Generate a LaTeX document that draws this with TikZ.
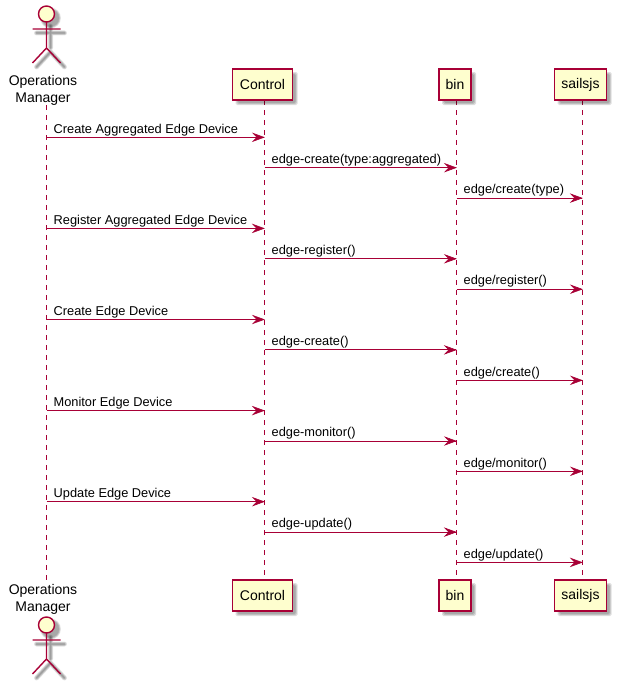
\documentclass[tikz,border=0pt]{standalone}
\usepackage{fontspec}
\setmainfont{Liberation Sans}
\definecolor{umlline}{HTML}{A80036}
\definecolor{umlfill}{HTML}{FEFECE}
\tikzset{
  lifeline/.style={draw=umlline,line width=1pt,dash pattern=on 5pt off 5pt},
  message/.style={draw=umlline,line width=1pt},
  msghead/.style={fill=umlline,draw=umlline,line width=0.6pt,line join=miter},
  msglabel/.style={anchor=base west,inner sep=0pt,font=\fontsize{12.8pt}{14pt}\selectfont,text=black},
  partbox/.style={draw=umlline,fill=umlfill,line width=1.4pt,minimum height=31pt,inner sep=0pt,font=\fontsize{14pt}{16pt}\selectfont,text=black},
  actorname/.style={inner sep=0pt,align=center,font=\fontsize{14pt}{17.5pt}\selectfont,text=black},
  actorline/.style={draw=umlline,line width=1.4pt},
  softshadow/.style={fill=black,fill opacity=0.13,draw=none,rounded corners=1.5pt},
  softline/.style={draw=black,draw opacity=0.09,line cap=round}
}
\newcommand{\boxshadow}[4]{% x1 y1 x2 y2
  \foreach \g in {-1,0,1}{
    \path[softshadow] (#1+4-\g,#2+4-\g) rectangle (#3+4+\g,#4+4+\g);
  }
}
\newcommand{\actorshadow}[2]{% x, head y
  \foreach \w in {1,2,3,4,5}{
    \draw[softline,line width=\w pt] (#1+4,#2+12) -- (#1+4,#2+34) (#1-10,#2+19) -- (#1+18,#2+19)
      (#1-10,#2+53) -- (#1+4,#2+38) -- (#1+18,#2+53);
    \fill[black,fill opacity=0.08] (#1+4,#2+4) circle ({8+\w*0.5});
  }
}
\newcommand{\actorfig}[2]{% x, head y
  \draw[actorline,fill=umlfill] (#1,#2) circle (8);
  \draw[actorline] (#1,#2+8) -- (#1,#2+34) (#1-14,#2+15) -- (#1+14,#2+15)
    (#1-14,#2+49) -- (#1,#2+34) -- (#1+14,#2+49);
}
\begin{document}
\begin{tikzpicture}[x=1pt,y=-1pt]
\useasboundingbox (0,0) rectangle (616,685);
\fill[white] (0,0) rectangle (616,685);

% lifeline ends
\coordinate (opT) at (46.5,105);
\coordinate (opB) at (46.5,581);
\coordinate (ctT) at (264.5,100);
\coordinate (ctB) at (264.5,580);
\coordinate (biT) at (456.5,100);
\coordinate (biB) at (456.5,580);
\coordinate (saT) at (582.5,100);
\coordinate (saB) at (582.5,580);
\draw[lifeline] (opT) -- (opB);
\draw[lifeline] (ctT) -- (ctB);
\draw[lifeline] (biT) -- (biB);
\draw[lifeline] (saT) -- (saB);

% shadows
\actorshadow{46.5}{14}
\actorshadow{46.5}{625}
\boxshadow{232.5}{69}{292.5}{100}
\boxshadow{232.5}{580}{292.5}{611}
\boxshadow{439}{69}{471}{100}
\boxshadow{439}{580}{471}{611}
\boxshadow{554.5}{69}{606.5}{100}
\boxshadow{554.5}{580}{606.5}{611}

% participants
\actorfig{46.5}{14}
\actorfig{46.5}{625}
\node[actorname] (opTop) at (43,90.5) {Operations\\Manager};
\node[actorname] (opBot) at (43,599.5) {Operations\\Manager};
\node[partbox,minimum width=60pt] (ctTop) at (262.5,84.5) {Control};
\node[partbox,minimum width=60pt] (ctBot) at (262.5,595.5) {Control};
\node[partbox,minimum width=32pt] (biTop) at (455,84.5) {bin};
\node[partbox,minimum width=32pt] (biBot) at (455,595.5) {bin};
\node[partbox,minimum width=52pt] (saTop) at (580.5,84.5) {sailsjs};
\node[partbox,minimum width=52pt] (saBot) at (580.5,595.5) {sailsjs};

% messages
\foreach \n/\y/\a/\ax/\b/\bx/\t in {
  1/137.3/op/46.5/ct/264/{Create Aggregated Edge Device},
  2/167.7/ct/264.5/bi/456/{edge-create(type:aggregated)},
  3/198.1/bi/456.5/sa/582/{edge/create(type)},
  4/228.4/op/46.5/ct/264/{Register Aggregated Edge Device},
  5/258.8/ct/264.5/bi/456/{edge-register()},
  6/289.2/bi/456.5/sa/582/{edge/register()},
  7/319.5/op/46.5/ct/264/{Create Edge Device},
  8/349.9/ct/264.5/bi/456/{edge-create()},
  9/380.3/bi/456.5/sa/582/{edge/create()},
  10/410.6/op/46.5/ct/264/{Monitor Edge Device},
  11/441/ct/264.5/bi/456/{edge-monitor()},
  12/471.3/bi/456.5/sa/582/{edge/monitor()},
  13/501.7/op/46.5/ct/264/{Update Edge Device},
  14/532.1/ct/264.5/bi/456/{edge-update()},
  15/562.4/bi/456.5/sa/582/{edge/update()}%
}{
  \coordinate (m\n a) at (\ax,\y);
  \coordinate (m\n b) at (\bx,\y);
  \draw[message] (m\n a) -- (m\n b);
  \path[msghead] (m\n b) -- ++(-11,-4) -- ++(4,4) -- ++(-4,4) -- cycle;
  \node[msglabel] (l\n) at (\ax+7,\y-4.3) {\t};
}
\end{tikzpicture}
\end{document}
